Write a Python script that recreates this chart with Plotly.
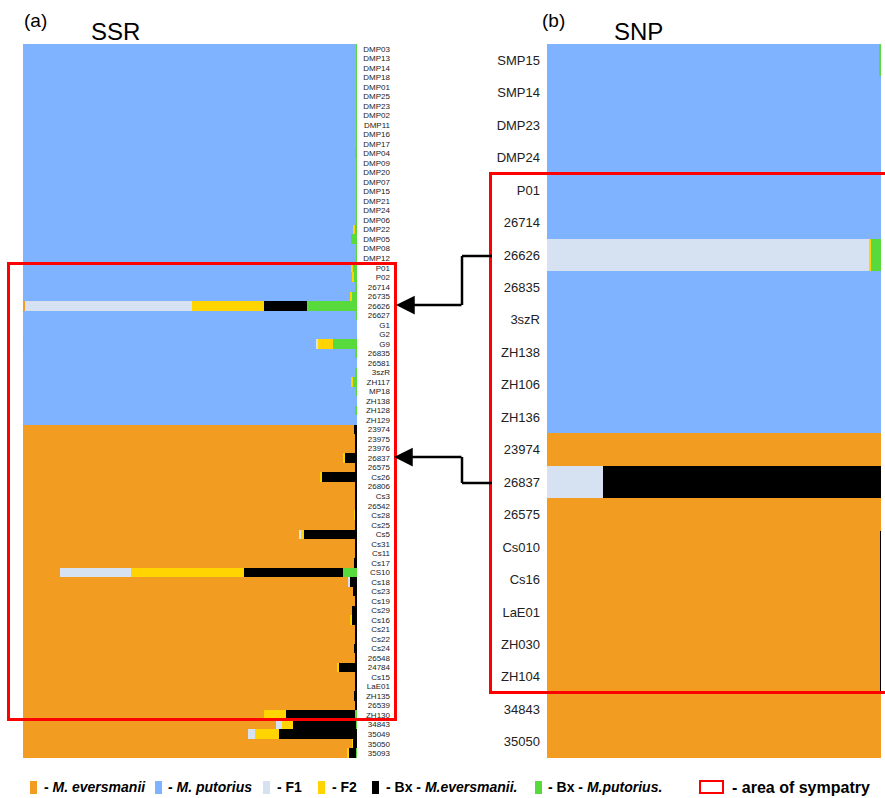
import plotly.graph_objects as go

W, H = 885, 798


def px(x):
    return x / W


def py(y):
    return 1 - y / H


# ---------------- data: panel (a) SSR ----------------
ssr_samples = [
    "DMP03", "DMP13", "DMP14", "DMP18", "DMP01", "DMP25", "DMP23", "DMP02", "DMP11", "DMP16",
    "DMP17", "DMP04", "DMP09", "DMP20", "DMP07", "DMP15", "DMP21", "DMP24", "DMP06", "DMP22",
    "DMP05", "DMP08", "DMP12", "P01", "P02", "26714", "26735", "26626", "26627", "G1",
    "G2", "G9", "26835", "26581", "3szR", "ZH117", "MP18", "ZH138", "ZH128", "ZH129",
    "23974", "23975", "23976", "26837", "26575", "Cs26", "26806", "Cs3", "26542", "Cs28",
    "Cs25", "Cs5", "Cs31", "Cs11", "Cs17", "CS10", "Cs18", "Cs23", "Cs19", "Cs29",
    "Cs16", "Cs21", "Cs22", "Cs24", "26548", "24784", "Cs15", "LaE01", "ZH135", "26539",
    "ZH130", "34843", "35049", "35050", "35093",
]
ssr_eversmanii = [
    0, 0, 0, 0, 0, 0, 0, 0, 0, 0,
    0, 0, 0, 0, 0, 0, 0, 0, 0, 0,
    0, 0, 0, 0, 0, 0, 0, 0.005, 0, 0,
    0, 0.004, 0, 0, 0, 0, 0, 0, 0, 0,
    0.992, 0.996, 0.996, 0.961, 0.994, 0.889, 0.996, 0.994, 0.996, 0.993,
    0.996, 0.827, 0.996, 0.996, 0.992, 0.112, 0.975, 0.987, 0.995, 0.985,
    0.982, 0.996, 0.996, 0.992, 0.996, 0.939, 0.995, 0.994, 0.992, 0.994,
    0.722, 0.757, 0.674, 0.988, 0.972,
]
ssr_putorius = [
    0.997, 0.997, 0.997, 0.997, 0.997, 0.997, 0.997, 0.997, 0.997, 0.997,
    0.997, 0.993, 0.997, 0.997, 0.997, 0.997, 0.997, 0.997, 0.997, 0.990,
    0.982, 0.997, 0.997, 0.982, 0.988, 0.994, 0.979, 0, 0.997, 1.0,
    1.0, 0.872, 0.994, 1.0, 0.996, 0.984, 0.997, 1.0, 0.995, 1.0,
    0, 0, 0, 0, 0, 0, 0, 0, 0, 0,
    0, 0, 0, 0, 0, 0, 0, 0, 0, 0,
    0, 0, 0, 0, 0, 0, 0, 0, 0, 0,
    0, 0, 0, 0, 0,
]
ssr_f1 = [
    0, 0, 0, 0, 0, 0, 0, 0, 0, 0,
    0, 0, 0, 0, 0, 0, 0, 0, 0, 0,
    0, 0, 0, 0, 0, 0, 0, 0.502, 0, 0,
    0, 0.006, 0, 0, 0, 0, 0, 0, 0, 0,
    0, 0, 0, 0, 0, 0, 0, 0, 0, 0,
    0, 0.005, 0, 0, 0, 0.210, 0.005, 0, 0, 0,
    0, 0, 0, 0, 0, 0, 0, 0, 0, 0,
    0, 0.018, 0.021, 0, 0,
]
ssr_f2 = [
    0, 0, 0, 0, 0, 0, 0, 0, 0, 0,
    0, 0, 0, 0, 0, 0, 0, 0, 0, 0.004,
    0, 0, 0, 0.006, 0.002, 0, 0.006, 0.216, 0, 0,
    0, 0.045, 0, 0, 0, 0.005, 0, 0, 0, 0,
    0, 0, 0, 0.003, 0.001, 0.006, 0, 0, 0, 0.001,
    0, 0.010, 0, 0, 0, 0.341, 0, 0, 0, 0,
    0.003, 0, 0, 0, 0, 0.008, 0.001, 0, 0, 0,
    0.066, 0.033, 0.072, 0.001, 0.003,
]
ssr_bx_eversmanii = [
    0, 0, 0, 0, 0, 0, 0, 0, 0, 0,
    0, 0, 0, 0, 0, 0, 0, 0, 0, 0,
    0, 0, 0, 0, 0, 0, 0, 0.128, 0, 0,
    0, 0, 0, 0, 0, 0, 0, 0, 0, 0,
    0.008, 0.004, 0.004, 0.036, 0.005, 0.105, 0.004, 0.006, 0.004, 0.006,
    0.004, 0.158, 0.004, 0.004, 0.008, 0.296, 0.020, 0.013, 0.005, 0.015,
    0.015, 0.004, 0.004, 0.008, 0.004, 0.053, 0.004, 0.006, 0.008, 0.006,
    0.208, 0.189, 0.233, 0.011, 0.022,
]
ssr_bx_putorius = [
    0.003, 0.003, 0.003, 0.003, 0.003, 0.003, 0.003, 0.003, 0.003, 0.003,
    0.003, 0.007, 0.003, 0.003, 0.003, 0.003, 0.003, 0.003, 0.003, 0.006,
    0.018, 0.003, 0.003, 0.012, 0.010, 0.006, 0.015, 0.149, 0.003, 0,
    0, 0.073, 0.006, 0, 0.004, 0.011, 0.003, 0, 0.005, 0,
    0, 0, 0, 0, 0, 0, 0, 0, 0, 0,
    0, 0, 0, 0, 0, 0.041, 0, 0, 0, 0,
    0, 0, 0, 0, 0, 0, 0, 0, 0, 0,
    0.004, 0.003, 0, 0, 0.003,
]

# ---------------- data: panel (b) SNP ----------------
snp_samples = [
    "SMP15", "SMP14", "DMP23", "DMP24", "P01", "26714", "26626", "26835", "3szR", "ZH138",
    "ZH106", "ZH136", "23974", "26837", "26575", "Cs010", "Cs16", "LaE01", "ZH030", "ZH104",
    "34843", "35050",
]
snp_eversmanii = [0, 0, 0, 0, 0, 0, 0, 0, 0, 0,
                  0, 0, 1.0, 0, 1.0, 0.997, 0.997, 0.997, 0.997, 0.997,
                  1.0, 1.0]
snp_putorius = [0.994, 1.0, 1.0, 1.0, 1.0, 1.0, 0, 1.0, 1.0, 1.0,
                1.0, 1.0, 0, 0, 0, 0, 0, 0, 0, 0,
                0, 0]
snp_f1 = [0, 0, 0, 0, 0, 0, 0.964, 0, 0, 0,
          0, 0, 0, 0.168, 0, 0, 0, 0, 0, 0,
          0, 0]
snp_f2 = [0, 0, 0, 0, 0, 0, 0.006, 0, 0, 0,
          0, 0, 0, 0, 0, 0, 0, 0, 0, 0,
          0, 0]
snp_bx_eversmanii = [0, 0, 0, 0, 0, 0, 0, 0, 0, 0,
                     0, 0, 0, 0.832, 0, 0.003, 0.003, 0.003, 0.003, 0.003,
                     0, 0]
snp_bx_putorius = [0.006, 0, 0, 0, 0, 0, 0.030, 0, 0, 0,
                   0, 0, 0, 0, 0, 0, 0, 0, 0, 0,
                   0, 0]

# ---------------- styling ----------------
C_EVER = "#F29D22"
C_PUT = "#7FB2FF"
C_F1 = "#D6E1F2"
C_F2 = "#FFD400"
C_BXE = "#000000"
C_BXP = "#58D93C"
FONT = "Liberation Sans, Arial, sans-serif"

fig = go.Figure()

ssr_parts = [ssr_eversmanii, ssr_putorius, ssr_f1, ssr_f2, ssr_bx_eversmanii, ssr_bx_putorius]
snp_parts = [snp_eversmanii, snp_putorius, snp_f1, snp_f2, snp_bx_eversmanii, snp_bx_putorius]
part_colors = [C_EVER, C_PUT, C_F1, C_F2, C_BXE, C_BXP]

for vals, col in zip(ssr_parts, part_colors):
    fig.add_trace(go.Bar(y=ssr_samples, x=vals, orientation="h", xaxis="x", yaxis="y",
                         marker=dict(color=col, line=dict(width=0)), showlegend=False))
for vals, col in zip(snp_parts, part_colors):
    fig.add_trace(go.Bar(y=snp_samples, x=vals, orientation="h", xaxis="x2", yaxis="y2",
                         marker=dict(color=col, line=dict(width=0)), showlegend=False))

ydom = [py(758), py(44)]
fig.update_layout(
    width=W, height=H,
    margin=dict(l=0, r=0, t=0, b=0),
    paper_bgcolor="white", plot_bgcolor="white",
    barmode="stack", bargap=0,
    font=dict(family=FONT, color="black"),
    xaxis=dict(domain=[px(23), px(357)], range=[0, 1], visible=False, anchor="y"),
    yaxis=dict(domain=ydom, type="category", categoryorder="array", categoryarray=ssr_samples,
               tickmode="array", tickvals=ssr_samples, ticktext=ssr_samples,
               autorange="reversed", anchor="free", position=px(390), side="left",
               showline=False, showgrid=False, zeroline=False, ticks="",
               tickfont=dict(size=8, family=FONT, color="#222")),
    xaxis2=dict(domain=[px(547), px(881)], range=[0, 1], visible=False, anchor="y2"),
    yaxis2=dict(domain=ydom, type="category", categoryorder="array", categoryarray=snp_samples,
                tickmode="array", tickvals=snp_samples, ticktext=snp_samples,
                autorange="reversed", anchor="free", position=px(540), side="left",
                showline=False, showgrid=False, zeroline=False, ticks="",
                tickfont=dict(size=13, family=FONT, color="#222")),
)

shapes = []
annotations = []

# sympatry rectangles
shapes.append(dict(type="rect", xref="paper", yref="paper", x0=px(8.5), x1=px(395.5),
                   y0=py(719.5), y1=py(263.5), line=dict(color="#FF0000", width=3)))
shapes.append(dict(type="rect", xref="paper", yref="paper", x0=px(490.5), x1=px(900),
                   y0=py(692.5), y1=py(173.5), line=dict(color="#FF0000", width=3)))

# connector lines
for (xa, ya, xb, yb) in [(492, 256, 462, 256), (462, 256, 462, 305),
                         (492, 483, 462, 483), (462, 483, 462, 457)]:
    shapes.append(dict(type="line", xref="paper", yref="paper", x0=px(xa), y0=py(ya),
                       x1=px(xb), y1=py(yb), line=dict(color="black", width=2.5)))
for (tipx, tipy) in [(396, 305), (394, 457)]:
    annotations.append(dict(x=px(tipx), y=py(tipy), xref="paper", yref="paper", text="",
                            showarrow=True, ax=463 - tipx, ay=0, arrowhead=2, arrowsize=1.5,
                            arrowwidth=2.5, arrowcolor="black"))

# titles
for txt, x, y, size in [("(a)", 22, 20, 19), ("SSR", 89, 31, 24),
                        ("(b)", 540, 20, 19), ("SNP", 612, 31, 24)]:
    annotations.append(dict(x=px(x), y=py(y), xref="paper", yref="paper", text=txt,
                            showarrow=False, xanchor="left", yanchor="middle",
                            font=dict(size=size, family=FONT, color="black")))

# legend
leg_y = 787
legend_items = [
    (C_EVER, 30, 37, 42, "<b>- <i>M. eversmanii</i></b>", 14),
    (C_PUT, 155, 162, 166, "<b>- <i>M. putorius</i></b>", 14),
    (C_F1, 263, 270, 275, "<b>- F1</b>", 14),
    (C_F2, 318, 325, 330, "<b>- F2</b>", 14),
    (C_BXE, 372, 379, 384, "<b>- Bx - <i>M.eversmanii.</i></b>", 14),
    (C_BXP, 535, 542, 546, "<b>- Bx - <i>M.putorius.</i></b>", 14),
]
for col, x0, x1, tx, txt, fs in legend_items:
    shapes.append(dict(type="rect", xref="paper", yref="paper", x0=px(x0), x1=px(x1),
                       y0=py(794), y1=py(781), fillcolor=col, line=dict(width=0)))
    annotations.append(dict(x=px(tx), y=py(leg_y), xref="paper", yref="paper", text=txt,
                            showarrow=False, xanchor="left", yanchor="middle",
                            font=dict(size=fs, family=FONT, color="black")))
shapes.append(dict(type="rect", xref="paper", yref="paper", x0=px(700), x1=px(723),
                   y0=py(793), y1=py(781), line=dict(color="#FF0000", width=2)))
annotations.append(dict(x=px(730), y=py(leg_y), xref="paper", yref="paper",
                        text="<b>- area of sympatry</b>", showarrow=False, xanchor="left",
                        yanchor="middle", font=dict(size=16, family=FONT, color="black")))

fig.update_layout(shapes=shapes, annotations=annotations)
# remove the default page margin so the figure sits at the window's top-left corner
fig.write_html("out.html", config={"displayModeBar": False},
               post_script="document.body.style.margin='0';")
